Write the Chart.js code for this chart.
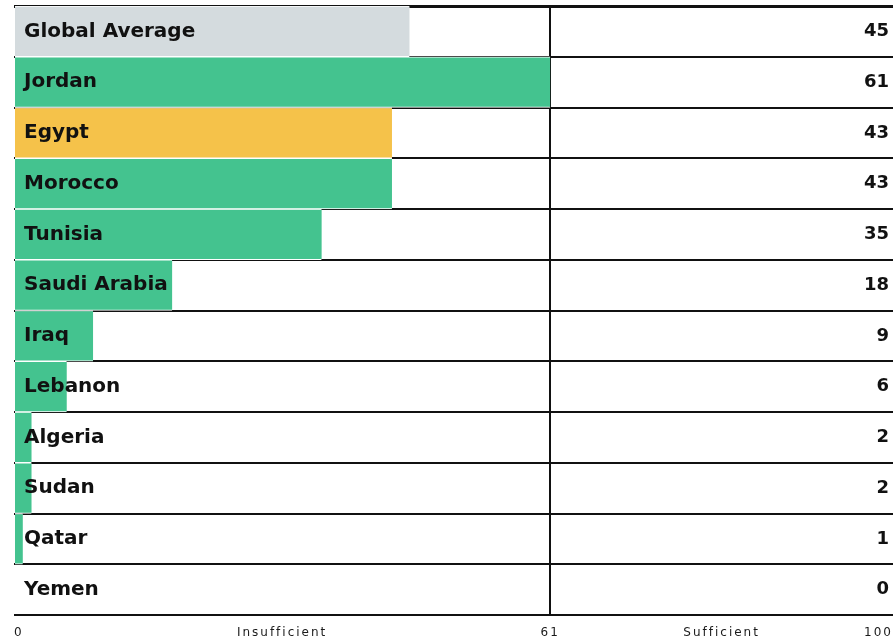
<!DOCTYPE html>
<html>
<head>
<meta charset="utf-8">
<script src="https://cdn.jsdelivr.net/npm/chart.js@4"></script>
<style>
  html, body { margin: 0; padding: 0; background: #fff; }
  #wrap { width: 894px; height: 643px; position: relative; }
</style>
</head>
<body>
<div id="wrap"><canvas id="myChart"></canvas></div>
<script>
/************** Water sufficiency chart ******/
var countries = ["Global Average", "Jordan", "Egypt", "Morocco", "Tunisia", "Saudi Arabia",
                 "Iraq", "Lebanon", "Algeria", "Sudan", "Qatar", "Yemen"];
var scores = [45, 61, 43, 43, 35, 18, 9, 6, 2, 2, 1, 0];
var barColors = ["#d4dbde", "#44c38f", "#f5c24a", "#44c38f", "#44c38f", "#44c38f",
                 "#44c38f", "#44c38f", "#44c38f", "#44c38f", "#44c38f", "#44c38f"];
var tickValues = [0, 30.5, 61, 80.5, 100];
var tickLabels = ["0", "Insufficient", "61", "Sufficient", "100"];
var threshold = 61;

// spaced-out bottom labels: letter spacing on while the x axis draws, off for the rest
var spacing = {
  id: "spacing",
  beforeDraw: function(chart) { chart.ctx.letterSpacing = "2px"; },
  afterDatasetsDraw: function(chart) { chart.ctx.letterSpacing = "0px"; }
};

// labels sit inside the plot, so the y axes should not eat any room
function flatAxis(scale) {
  scale.width = 0;
  scale.paddingTop = 0;
  scale.paddingBottom = 0;
}

new Chart("myChart", {
  type: "bar",
  data: {
    labels: countries,
    datasets: [{
      data: scores,
      backgroundColor: barColors,
      borderColor: "#fff",
      borderWidth: {top: 1, bottom: 1, left: 0, right: 0},
      borderSkipped: false,
      barPercentage: 1,
      categoryPercentage: 1
    }]
  },
  plugins: [spacing],
  options: {
    indexAxis: "y",
    responsive: true,
    maintainAspectRatio: false,
    animation: false,
    layout: {padding: {left: 14, right: 1, top: 6, bottom: 0}},
    plugins: {
      legend: {display: false},
      tooltip: {enabled: false}
    },
    scales: {
      x: {
        min: 0,
        max: 100,
        afterBuildTicks: function(scale) {
          scale.ticks = tickValues.map(function(v) { return {value: v}; });
        },
        afterFit: function(scale) {
          scale.height = 28;
          scale.paddingLeft = 0;
          scale.paddingRight = 0;
        },
        border: {display: false},
        grid: {
          drawTicks: false,
          lineWidth: 2,
          color: function(ctx) {
            return ctx.tick && ctx.tick.value === threshold ? "#111" : "rgba(0,0,0,0)";
          }
        },
        ticks: {
          autoSkip: false,
          maxRotation: 0,
          align: "inner",
          padding: 11,
          color: "#1a1a1a",
          font: {family: "DejaVu Sans", size: 12},
          callback: function(value, index) { return tickLabels[index]; }
        }
      },
      y: {
        offset: true,
        afterFit: flatAxis,
        border: {display: false},
        grid: {
          offset: true,
          drawTicks: false,
          color: "#111",
          lineWidth: function(ctx) {
            return (ctx.index === 0 || ctx.index === countries.length) ? 3 : 2;
          }
        },
        ticks: {
          mirror: true,
          z: 1,
          padding: 10,
          color: "#111",
          font: {family: "DejaVu Sans", size: 20, weight: "bold"}
        }
      },
      y2: {
        type: "category",
        position: "right",
        offset: true,
        afterFit: flatAxis,
        border: {display: false},
        grid: {display: false, drawTicks: false},
        ticks: {
          mirror: true,
          z: 1,
          padding: -4,
          color: "#111",
          font: {family: "DejaVu Sans", size: 18, weight: "bold"},
          callback: function(value, index) { return String(scores[index]); }
        }
      }
    }
  }
});
</script>
</body>
</html>
